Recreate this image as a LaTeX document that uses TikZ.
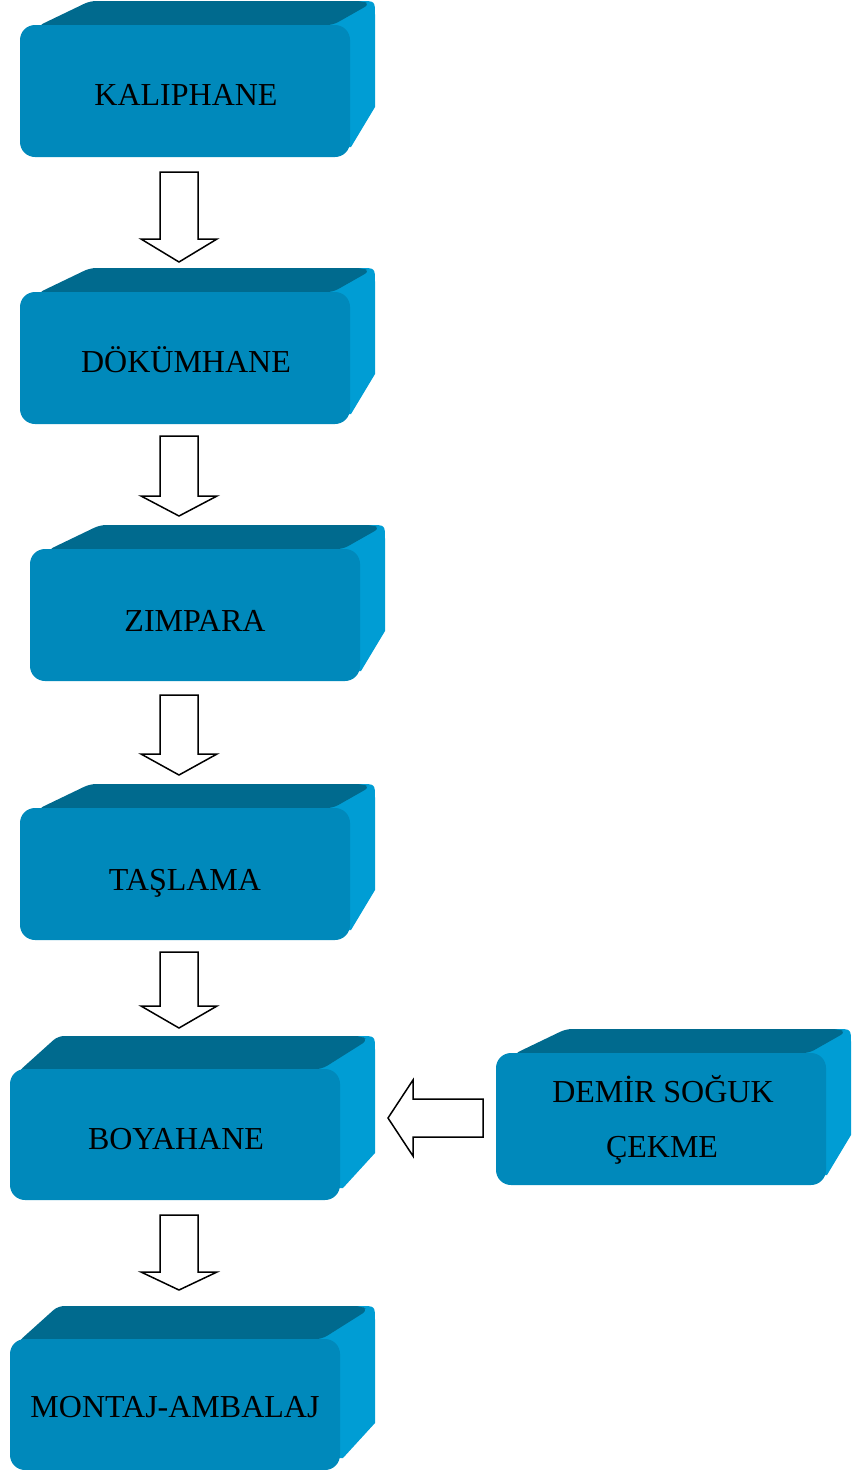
\documentclass[tikz,border=0pt]{standalone}
\usepackage{fontspec}
\setmainfont{Liberation Serif}
\definecolor{frontc}{RGB}{0,137,187}
\definecolor{topc}{RGB}{0,106,142}
\definecolor{sidec}{RGB}{0,157,212}
\tikzset{
  frontface/.style={fill=frontc, rounded corners=15pt},
  topface/.style={fill=topc, rounded corners=6pt},
  sideface/.style={fill=sidec},
  lbl/.style={font=\fontsize{32}{38}\selectfont, text=black, anchor=base, inner sep=0pt},
  blockarrow/.style={draw=black, line width=1.5pt, fill=white, line join=miter},
}
\newcommand\boxA[2]{%
  \begin{scope}[shift={(#1,#2)}]
    \fill[sideface] (300,-24) -- (341,-24) .. controls (355,-24) .. (355,-10)
      -- (355,82) -- (331,122) -- (300,122) -- cycle;
    \fill[topface] (18,1) -- (70,-24) -- (342,-24) -- (350,-21) -- (313,0) -- cycle;
    \fill[frontface] (0,0) rectangle (330,132);
  \end{scope}}
\newcommand\boxB[2]{%
  \begin{scope}[shift={(#1,#2)}]
    \fill[sideface] (300,-33) -- (351,-33) .. controls (365,-33) .. (365,-19)
      -- (365,84) -- (333,119) -- (300,119) -- cycle;
    \fill[topface] (8,3) -- (48,-33) -- (351,-33) -- (358,-29) -- (312,0) -- cycle;
    \fill[frontface] (0,0) rectangle (330,131);
  \end{scope}}
\newcommand\downarr[4]{%
  \draw[blockarrow] ({#1-19},#2) -- ({#1+19},#2) -- ({#1+19},#3) -- ({#1+38},#3)
    -- (#1,#4) -- ({#1-38},#3) -- ({#1-19},#3) -- cycle;}
\begin{document}
\begin{tikzpicture}[x=1pt,y=-1pt]
  \useasboundingbox (0,0) rectangle (863,1470);
  % boxes
  \boxA{20}{25}
  \boxA{20}{292}
  \boxA{30}{549}
  \boxA{20}{808}
  \boxB{10}{1069}
  \boxA{496}{1053}
  \boxB{10}{1339}
  % labels
  \node[lbl] (kaliphane) at (186,105) {KALIPHANE};
  \node[lbl] (dokumhane) at (186,372) {DÖKÜMHANE};
  \node[lbl] (zimpara) at (195,631) {ZIMPARA};
  \node[lbl] (taslama) at (185,890) {TAŞLAMA};
  \node[lbl] (boyahane) at (176,1149) {BOYAHANE};
  \node[lbl] (demir) at (663,1102) {DEMİR SOĞUK};
  \node[lbl] (cekme) at (662,1157) {ÇEKME};
  \node[lbl] (montaj) at (175,1417) {MONTAJ-AMBALAJ};
  % arrows
  \downarr{179}{172}{239}{262}
  \downarr{179}{436}{496}{516}
  \downarr{179}{695}{754}{775}
  \downarr{179}{952}{1006}{1028}
  \downarr{179}{1215}{1272}{1290}
  \draw[blockarrow] (483,1099) -- (483,1137) -- (413,1137) -- (413,1156)
    -- (388,1118) -- (413,1080) -- (413,1099) -- cycle;
\end{tikzpicture}
\end{document}
